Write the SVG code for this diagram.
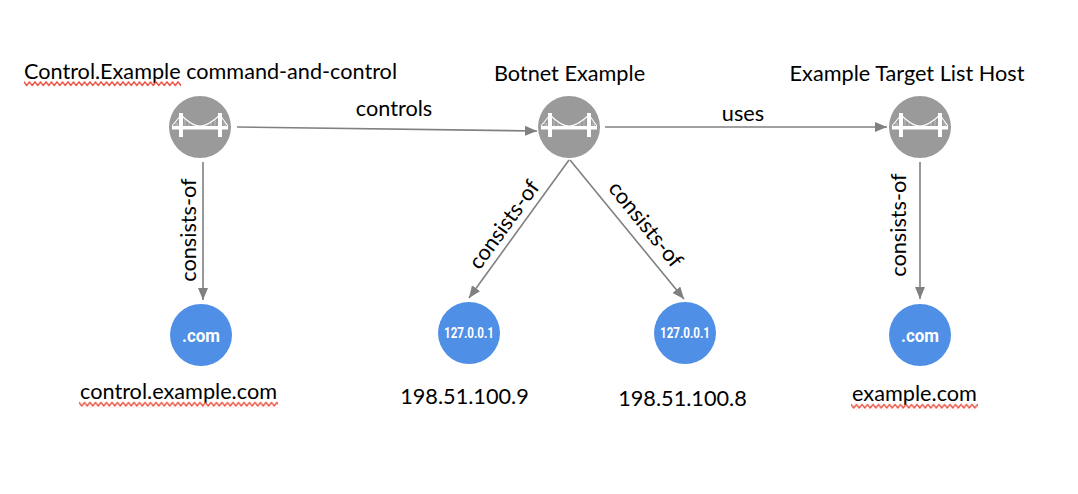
<svg xmlns="http://www.w3.org/2000/svg" width="1078" height="494" viewBox="0 0 1078 494">
<style>
.t{font-family:Lato,"Open Sans","Liberation Sans",sans-serif;font-size:21.7px;fill:#000}
.m{text-anchor:middle}
.c{stroke:#808080;stroke-width:1.6;fill:none;marker-end:url(#a)}
.b{fill:#9a9a9a}
.d{fill:#4f8fe6}
.w{font-family:Roboto,"Liberation Sans",sans-serif;font-weight:700;fill:#fff;text-anchor:middle}
.s{fill:url(#z)}
</style>
<defs>
<marker id="a" markerWidth="14" markerHeight="12" refX="12" refY="5" orient="auto" markerUnits="userSpaceOnUse"><path d="M0 0L12 5L0 10Z" fill="#808080"/></marker>
<pattern id="z" width="5.500" height="6" patternUnits="userSpaceOnUse"><path d="M-1 2L0 1L2.750 4.500L5.500 1L6.500 2" fill="none" stroke="#e8412f" stroke-width="1.300"/></pattern>
<g id="br">
<path d="M-28 -1H28V2.500H-28Z" fill="#fff"/>
<path d="M-21 -14V10H-17V-14ZM18 -14V10H22V-14Z" fill="#fff"/>
<path d="M-19 -12Q-8 -1 0 -1Q8 -1 20 -12M-28 -1L-19 -12M28 -1L20 -12" fill="none" stroke="#fff" stroke-width="1.100"/>
<path d="M-15 -8V0M-11 -5V0M-7 -3V0M7 -3V0M11 -5V0M15 -8V0M-24 -5V0M-22.500 -4V0M24 -5V0M25.500 -3V0" fill="none" stroke="#fff" stroke-width=".5" opacity=".7"/>
</g>
</defs>
<g id="connectors">
<path class="c" d="M237 127L537 131"/>
<path class="c" d="M605 127H887"/>
<path class="c" d="M203 162V300"/>
<path class="c" d="M569 160L469 298"/>
<path class="c" d="M570 160L684 299"/>
<path class="c" d="M920 162V299"/>
</g>
<g id="edge-labels">
<text class="t m" x="394" y="116">controls</text>
<text class="t m" x="743" y="121">uses</text>
<text class="t m" transform="translate(196 230) rotate(-90)">consists-of</text>
<text class="t m" transform="translate(510 229) rotate(-54)">consists-of</text>
<text class="t m" transform="translate(640 229) rotate(51)">consists-of</text>
<text class="t m" transform="translate(906 225) rotate(-90)">consists-of</text>
</g>
<g id="node-control"><circle class="b" cx="200" cy="127" r="31"/><use href="#br" x="200" y="127"/><text class="t" x="24" y="79" textLength="373" lengthAdjust="spacingAndGlyphs">Control.Example command-and-control</text><rect class="s" transform="translate(24 81)" width="157" height="6"/></g>
<g id="node-botnet"><circle class="b" cx="569" cy="127" r="31"/><use href="#br" x="569" y="127"/><text class="t m" x="569.500" y="81">Botnet Example</text></g>
<g id="node-target"><circle class="b" cx="920" cy="127" r="31"/><use href="#br" x="920" y="127"/><text class="t m" x="907" y="81">Example Target List Host</text></g>
<g id="node-control-domain"><circle class="d" cx="201" cy="335" r="31"/><text class="w" x="201" y="342" font-size="19" textLength="38" lengthAdjust="spacingAndGlyphs">.com</text><text class="t m" x="178.500" y="399">control.example.com</text><rect class="s" transform="translate(79 401.500)" width="199" height="6"/></g>
<g id="node-ip9"><circle class="d" cx="469" cy="333" r="31"/><text class="w" x="469" y="338" font-size="14.500" textLength="50" lengthAdjust="spacingAndGlyphs">127.0.0.1</text><text class="t m" x="464.500" y="404">198.51.100.9</text></g>
<g id="node-ip8"><circle class="d" cx="685" cy="333" r="31"/><text class="w" x="685" y="338" font-size="14.500" textLength="50" lengthAdjust="spacingAndGlyphs">127.0.0.1</text><text class="t m" x="682.500" y="406">198.51.100.8</text></g>
<g id="node-target-domain"><circle class="d" cx="920" cy="335" r="31"/><text class="w" x="920" y="342" font-size="19" textLength="38" lengthAdjust="spacingAndGlyphs">.com</text><text class="t m" x="914.500" y="401">example.com</text><rect class="s" transform="translate(851 403.500)" width="127" height="6"/></g>
</svg>
